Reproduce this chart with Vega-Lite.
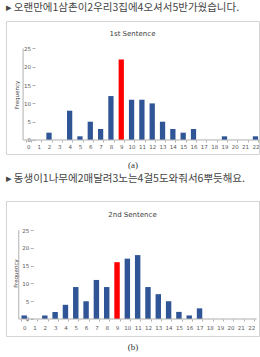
{
  "$schema": "https://vega.github.io/schema/vega-lite/v6.json",
  "padding": {"left": 5, "top": 2, "right": 0, "bottom": 0},
  "background": "white",
  "config": {"view": {"stroke": "#d4d4d4"}, "font": "DejaVu Sans"},
  "spacing": 4,
  "datasets": {
    "s1": [
      {"n": "0", "freq": 0, "hl": "n"}, {"n": "1", "freq": 0, "hl": "n"}, {"n": "2", "freq": 2, "hl": "n"},
      {"n": "3", "freq": 0, "hl": "n"}, {"n": "4", "freq": 8, "hl": "n"}, {"n": "5", "freq": 1, "hl": "n"},
      {"n": "6", "freq": 5, "hl": "n"}, {"n": "7", "freq": 3, "hl": "n"}, {"n": "8", "freq": 12, "hl": "n"},
      {"n": "9", "freq": 22, "hl": "y"}, {"n": "10", "freq": 11, "hl": "n"}, {"n": "11", "freq": 11, "hl": "n"},
      {"n": "12", "freq": 10, "hl": "n"}, {"n": "13", "freq": 5, "hl": "n"}, {"n": "14", "freq": 3, "hl": "n"},
      {"n": "15", "freq": 2, "hl": "n"}, {"n": "16", "freq": 3, "hl": "n"}, {"n": "17", "freq": 0, "hl": "n"},
      {"n": "18", "freq": 0, "hl": "n"}, {"n": "19", "freq": 1, "hl": "n"}, {"n": "20", "freq": 0, "hl": "n"},
      {"n": "21", "freq": 0, "hl": "n"}, {"n": "22", "freq": 1, "hl": "n"}
    ],
    "s2": [
      {"n": "0", "freq": 1, "hl": "n"}, {"n": "1", "freq": 0, "hl": "n"}, {"n": "2", "freq": 1, "hl": "n"},
      {"n": "3", "freq": 2, "hl": "n"}, {"n": "4", "freq": 4, "hl": "n"}, {"n": "5", "freq": 9, "hl": "n"},
      {"n": "6", "freq": 5, "hl": "n"}, {"n": "7", "freq": 11, "hl": "n"}, {"n": "8", "freq": 9, "hl": "n"},
      {"n": "9", "freq": 16, "hl": "y"}, {"n": "10", "freq": 17, "hl": "n"}, {"n": "11", "freq": 18, "hl": "n"},
      {"n": "12", "freq": 9, "hl": "n"}, {"n": "13", "freq": 7, "hl": "n"}, {"n": "14", "freq": 5, "hl": "n"},
      {"n": "15", "freq": 2, "hl": "n"}, {"n": "16", "freq": 1, "hl": "n"}, {"n": "17", "freq": 3, "hl": "n"},
      {"n": "18", "freq": 0, "hl": "n"}, {"n": "19", "freq": 0, "hl": "n"}, {"n": "20", "freq": 0, "hl": "n"},
      {"n": "21", "freq": 0, "hl": "n"}, {"n": "22", "freq": 0, "hl": "n"}
    ]
  },
  "vconcat": [
    {
      "title": {"text": "▸ 오랜만에1삼촌이2우리3집에4오셔서5반가웠습니다.", "anchor": "start", "font": "Noto Sans CJK KR", "fontSize": 10.5, "fontWeight": "normal", "color": "#444444", "offset": 7.5},
      "vconcat": [
        {
          "title": {"text": "1st Sentence", "offset": -16, "fontSize": 7, "font": "DejaVu Sans", "fontWeight": "normal", "color": "#404040", "anchor": "middle"},
          "width": 253,
          "height": 133,
          "resolve": {"axis": {"x": "independent", "y": "independent"}},
          "layer": [
            {
              "data": {"name": "s1"},
              "mark": {"type": "bar"},
              "encoding": {
                "x": {"field": "n", "type": "ordinal", "sort": null,
                  "scale": {"domain": ["0","1","2","3","4","5","6","7","8","9","10","11","12","13","14","15","16","17","18","19","20","21","22"], "paddingInner": 0.49, "paddingOuter": 1.705, "align": 0.955},
                  "axis": {"title": "(a)", "titleFont": "Liberation Serif", "titleFontSize": 9, "titleFontWeight": "normal", "titleColor": "#333333", "titleY": 24, "titleBaseline": "middle", "offset": -14, "domain": false, "ticks": true, "tickBand": "extent", "tickSize": 2, "tickColor": "#b0b0b0", "labelFontSize": 5.5, "labelColor": "#595959", "labelPadding": 2.2, "labelAngle": 0, "labelOverlap": false, "labelFont": "DejaVu Sans"}},
                "y": {"field": "freq", "type": "quantitative", "stack": null,
                  "scale": {"domain": [-3.83, 32.51], "nice": false, "zero": false},
                  "axis": {"title": "Frequency", "values": [0, 5, 10, 15, 20, 25], "offset": -29, "domain": false, "tickSize": 3, "tickColor": "#b0b0b0", "labelFontSize": 5.5, "labelColor": "#595959", "labelPadding": 1.5, "labelOverlap": false, "labelFlush": false, "titleFontSize": 5.5, "titleFontWeight": "normal", "titleColor": "#404040", "titleX": -19, "titleY": 73.5, "titleBaseline": "middle", "grid": false}},
                "y2": {"datum": 0},
                "color": {"field": "hl", "type": "nominal", "scale": {"domain": ["n", "y"], "range": ["#2f5597", "#ff0000"]}, "legend": null}
              }
            },
            {
              "data": {"values": [{}]},
              "mark": {"type": "rule", "color": "#b0b0b0", "strokeWidth": 1},
              "encoding": {"y": {"datum": 0, "type": "quantitative", "axis": null}, "x": {"datum": "0", "type": "ordinal", "bandPosition": -0.5, "axis": null}, "x2": {"datum": "22", "bandPosition": 1.5}}
            },
            {
              "data": {"values": [{}]},
              "mark": {"type": "rule", "color": "#b0b0b0", "strokeWidth": 1},
              "encoding": {"x": {"datum": "0", "type": "ordinal", "bandPosition": -0.5, "axis": null}, "y": {"datum": 0, "type": "quantitative", "axis": null}, "y2": {"datum": 25}}
            }
          ]
        }
      ]
    },
    {
      "title": {"text": "▸ 동생이1나무에2매달려3노는4걸5도와줘서6뿌듯해요.", "anchor": "start", "font": "Noto Sans CJK KR", "fontSize": 10.5, "fontWeight": "normal", "color": "#444444", "offset": 16},
      "vconcat": [
        {
          "title": {"text": "2nd Sentence", "offset": -17, "fontSize": 7, "font": "DejaVu Sans", "fontWeight": "normal", "color": "#404040", "anchor": "middle"},
          "width": 253,
          "height": 135,
          "resolve": {"axis": {"x": "independent", "y": "independent"}},
          "layer": [
            {
              "data": {"name": "s2"},
              "mark": {"type": "bar"},
              "encoding": {
                "x": {"field": "n", "type": "ordinal", "sort": null,
                  "scale": {"domain": ["0","1","2","3","4","5","6","7","8","9","10","11","12","13","14","15","16","17","18","19","20","21","22"], "paddingInner": 0.474, "paddingOuter": 2.06, "align": 0.75},
                  "axis": {"title": "(b)", "titleFont": "Liberation Serif", "titleFontSize": 9, "titleFontWeight": "normal", "titleColor": "#333333", "titleY": 27, "titleBaseline": "middle", "offset": -17, "domain": false, "ticks": true, "tickBand": "extent", "tickSize": 2, "tickColor": "#b0b0b0", "labelFontSize": 5.5, "labelColor": "#595959", "labelPadding": 4, "labelAngle": 0, "labelOverlap": false, "labelFont": "DejaVu Sans"}},
                "y": {"field": "freq", "type": "quantitative", "stack": null,
                  "scale": {"domain": [-4.79, 33.24], "nice": false, "zero": false},
                  "axis": {"title": "Frequency", "values": [0, 5, 10, 15, 20, 25], "offset": -27.3, "domain": false, "tickSize": 3, "tickColor": "#b0b0b0", "labelFontSize": 5.5, "labelColor": "#595959", "labelPadding": 1.5, "labelOverlap": false, "labelFlush": false, "titleFontSize": 5.5, "titleFontWeight": "normal", "titleColor": "#404040", "titleX": -18, "titleY": 72, "titleBaseline": "middle", "grid": false}},
                "y2": {"datum": 0},
                "color": {"field": "hl", "type": "nominal", "scale": {"domain": ["n", "y"], "range": ["#2f5597", "#ff0000"]}, "legend": null}
              }
            },
            {
              "data": {"values": [{}]},
              "mark": {"type": "rule", "color": "#b0b0b0", "strokeWidth": 1},
              "encoding": {"y": {"datum": 0, "type": "quantitative", "axis": null}, "x": {"datum": "0", "type": "ordinal", "bandPosition": -0.5, "axis": null}, "x2": {"datum": "22", "bandPosition": 1.5}}
            },
            {
              "data": {"values": [{}]},
              "mark": {"type": "rule", "color": "#b0b0b0", "strokeWidth": 1},
              "encoding": {"x": {"datum": "0", "type": "ordinal", "bandPosition": -0.5, "axis": null}, "y": {"datum": 0, "type": "quantitative", "axis": null}, "y2": {"datum": 25}}
            }
          ]
        }
      ]
    }
  ]
}
